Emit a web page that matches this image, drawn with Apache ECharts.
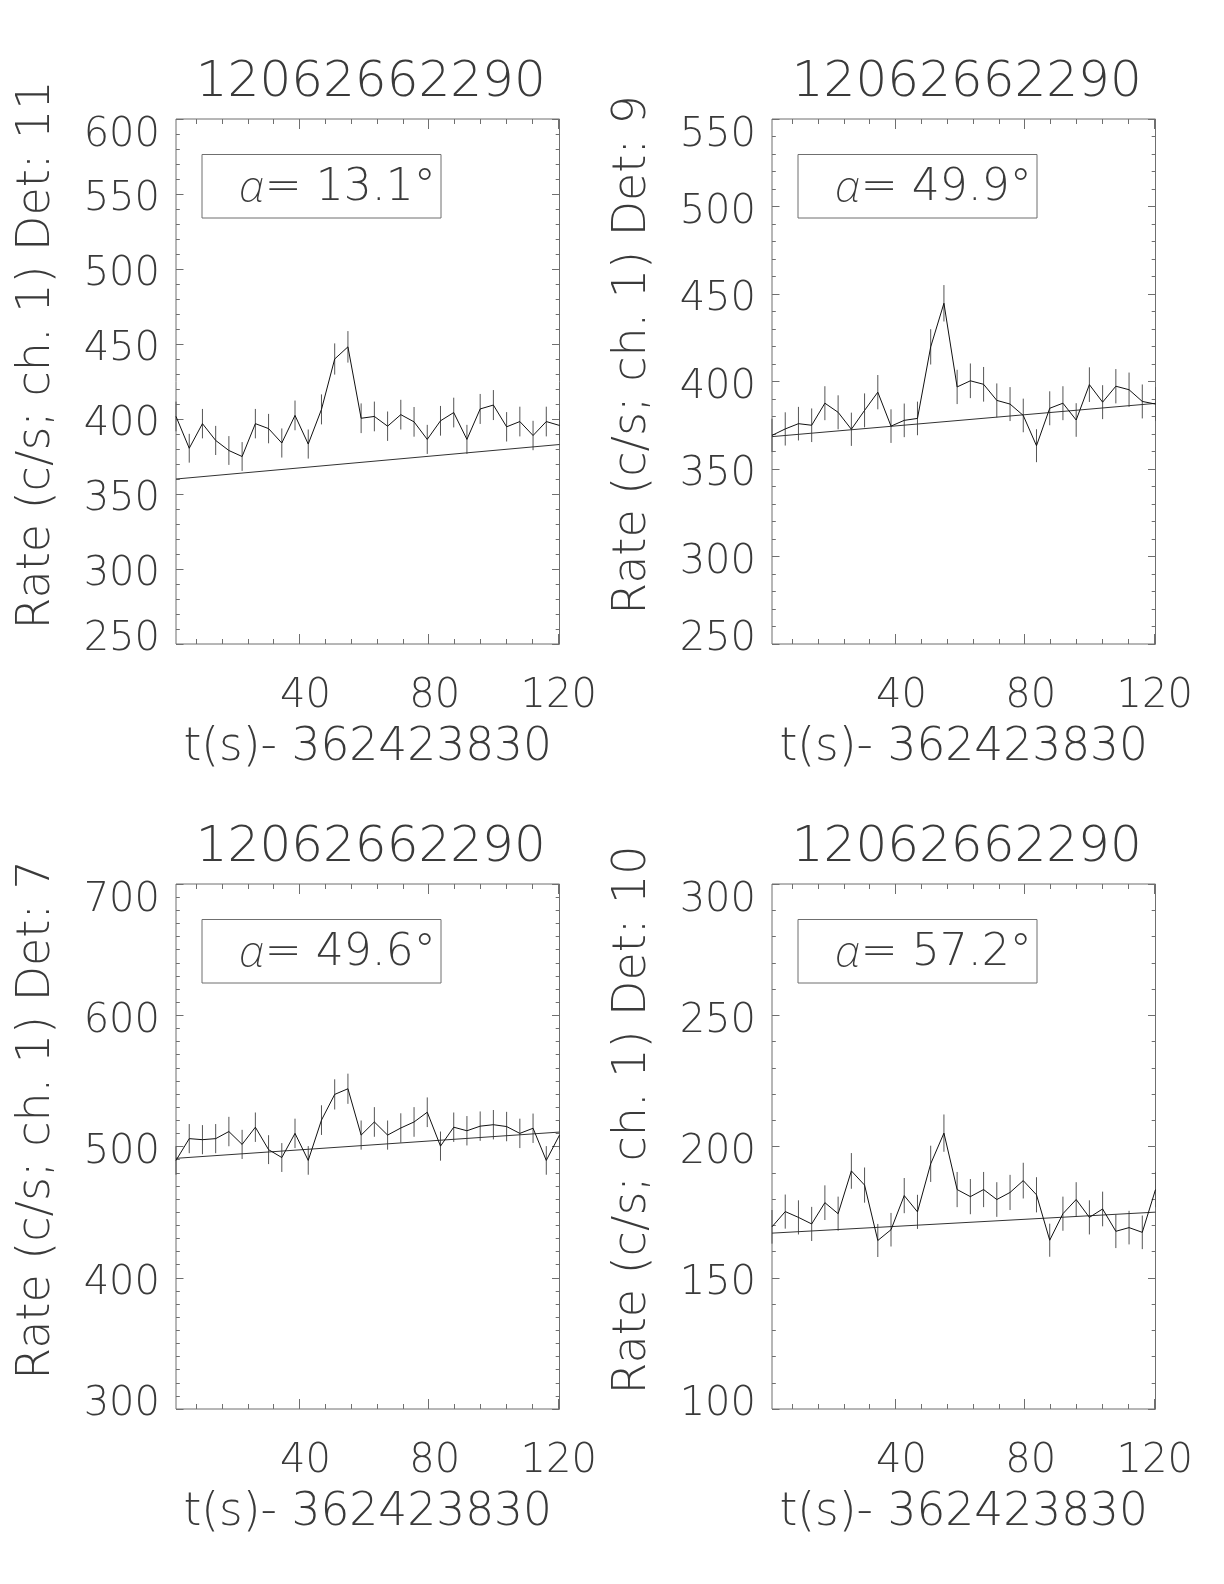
<!DOCTYPE html>
<html><head><meta charset="utf-8">
<script src="https://cdn.jsdelivr.net/npm/echarts@6/dist/echarts.min.js"></script>
<style>html,body{margin:0;padding:0;background:#fff}#c{width:1224px;height:1584px}</style>
</head><body><div id="c"></div>
<script>
// ---- data ----
const times = [1.75, 5.85, 9.94, 14.04, 18.13, 22.23, 26.33, 30.42, 34.52, 38.61, 42.71, 46.81, 50.90, 55.00, 59.09,
  63.19, 67.29, 71.38, 75.48, 79.57, 83.67, 87.77, 91.86, 95.96, 100.05, 104.15, 108.25, 112.34, 116.44, 120.53];

const rateDet11 = [401.7, 380.5, 396.9, 385.7, 379, 375, 396.9, 393.6, 384, 402.4, 383.3, 406.4, 440, 448.1, 400.5,
  401.7, 395.2, 402.9, 398.1, 386.4, 398.8, 404.3, 386.4, 406.7, 409.3, 394.8, 398.3, 389, 398.3, 395.7];
const errDet11 = [9.9, 9.6, 9.8, 9.7, 9.6, 9.6, 9.8, 9.8, 9.7, 9.9, 9.7, 10.0, 10.4, 10.5, 9.9,
  9.9, 9.8, 9.9, 9.9, 9.7, 9.9, 9.9, 9.7, 10.0, 10.0, 9.8, 9.9, 9.8, 9.9, 9.8];
const bkgDet11 = [360, 383];

const rateDet9 = [369.2, 372.9, 375.9, 375, 387.6, 382.4, 372.7, 383.5, 393.9, 374.5, 377.8, 378.9, 419.8, 444.7, 396.9,
  400.4, 398.4, 389.2, 387.1, 380.6, 363.3, 384.7, 387.6, 378, 398.2, 388.2, 397.3, 395.3, 388.6, 387.1];
const errDet9 = [9.5, 9.5, 9.6, 9.6, 9.7, 9.7, 9.5, 9.7, 9.8, 9.6, 9.6, 9.6, 10.1, 10.4, 9.8,
  9.9, 9.9, 9.7, 9.7, 9.6, 9.4, 9.7, 9.7, 9.6, 9.9, 9.7, 9.8, 9.8, 9.7, 9.7];
const bkgDet9 = [368.5, 387.5];

const rateDet7 = [489.4, 506, 505.2, 506, 511.4, 501.6, 514.7, 497.6, 491.6, 510, 489.4, 520.1, 539.7, 544, 508.7,
  518.7, 508.7, 514.1, 518.7, 526.1, 500.3, 514.7, 512, 515.5, 516.6, 515.2, 510, 513.9, 489.4, 508.7];
const errDet7 = [10.9, 11.1, 11.1, 11.1, 11.2, 11.1, 11.2, 11.0, 11.0, 11.2, 10.9, 11.3, 11.5, 11.5, 11.1,
  11.3, 11.1, 11.2, 11.3, 11.3, 11.1, 11.2, 11.2, 11.2, 11.2, 11.2, 11.2, 11.2, 10.9, 11.1];
const bkgDet7 = [491, 511];

const rateDet10 = [169.4, 175.2, 173, 170.5, 178.6, 174.4, 190.7, 185.3, 164.2, 168.3, 181.3, 175.1, 193.4, 205.1, 183.6,
  180.9, 183.6, 179.8, 182.5, 187, 181.6, 164.3, 174.4, 179.8, 173, 176.2, 167.7, 169.1, 167.3, 183.6];
const errDet10 = [6.4, 6.5, 6.5, 6.5, 6.6, 6.5, 6.8, 6.7, 6.3, 6.4, 6.7, 6.5, 6.9, 7.1, 6.7,
  6.7, 6.7, 6.6, 6.7, 6.8, 6.7, 6.3, 6.5, 6.6, 6.5, 6.6, 6.4, 6.4, 6.4, 6.7];
const bkgDet10 = [167, 175];

const panelTitles = ['12062662290', '12062662290', '12062662290', '12062662290'];
const yNames = ['Rate (c/s; ch. 1) Det: 11', 'Rate (c/s; ch. 1) Det: 9', 'Rate (c/s; ch. 1) Det: 7', 'Rate (c/s; ch. 1) Det: 10'];
const xName = 't(s)- 362423830';
const alphaLabels = ['13.1°', '49.9°', '49.6°', '57.2°'];
const yMins = [250, 250, 300, 100];
const yMaxs = [600, 550, 700, 300];
const yIntervals = [50, 50, 100, 50];
const yMinorSplits = [5, 5, 10, 5];
const xMajorTicks = [40, 80, 120];
const xMinorTicks = [8, 16, 24, 32, 48, 56, 64, 72, 88, 96, 104, 112];

const rates = [rateDet11, rateDet9, rateDet7, rateDet10];
const errs = [errDet11, errDet9, errDet7, errDet10];
const bkgs = [bkgDet11, bkgDet9, bkgDet7, bkgDet10];

// ---- layout ----
const FONT = "'DejaVu Sans', 'Noto Sans', sans-serif";
const FW = 200;
const TXT = '#3a3a3a';
const AX = '#6f6f6f';
const GW = 383.5, GH = 525;
const gridPos = [{left: 176, top: 119}, {left: 772, top: 119}, {left: 176, top: 884}, {left: 772, top: 884}];
const tMin = times[0], tMax = times[times.length - 1];
const lbl = {fontSize: 40, fontFamily: FONT, fontWeight: FW, color: TXT};

const grid = [], xAxis = [], yAxis = [], series = [], graphic = [];

gridPos.forEach((g, k) => {
  grid.push({left: g.left, top: g.top, width: GW, height: GH, show: true, borderColor: AX, borderWidth: 1,
    backgroundColor: 'transparent', containLabel: false});

  const baseX = {gridIndex: k, type: 'value', min: tMin, max: tMax, splitLine: {show: false},
    axisLine: {show: false, onZero: false}};
  xAxis.push(Object.assign({}, baseX, {position: 'bottom',
    axisTick: {show: true, inside: true, length: 10, customValues: xMajorTicks, lineStyle: {color: AX, width: 1}},
    axisLabel: Object.assign({show: true, customValues: xMajorTicks, margin: 33,
      formatter: v => (v === 120 ? '{e|' : '{m|') + v + '}',
      rich: {m: Object.assign({padding: [0, 0, 0, 12]}, lbl), e: Object.assign({padding: [0, 0, 0, 2]}, lbl)}}, lbl),
    name: xName, nameLocation: 'middle', nameGap: 81,
    nameTextStyle: {fontSize: 45.5, fontFamily: FONT, fontWeight: FW, color: TXT}}));
  xAxis.push(Object.assign({}, baseX, {position: 'bottom',
    axisTick: {show: true, inside: true, length: 5, customValues: xMinorTicks, lineStyle: {color: AX, width: 1}},
    axisLabel: {show: false}}));
  xAxis.push(Object.assign({}, baseX, {position: 'top',
    axisTick: {show: true, inside: true, length: 10, customValues: xMajorTicks, lineStyle: {color: AX, width: 1}},
    axisLabel: {show: false}}));
  xAxis.push(Object.assign({}, baseX, {position: 'top',
    axisTick: {show: true, inside: true, length: 5, customValues: xMinorTicks, lineStyle: {color: AX, width: 1}},
    axisLabel: {show: false}}));

  const mn = yMins[k], mx = yMaxs[k];
  const baseY = {gridIndex: k, type: 'value', min: mn, max: mx, interval: yIntervals[k],
    splitLine: {show: false}, axisLine: {show: false, onZero: false},
    axisTick: {show: true, inside: true, length: 7.5, lineStyle: {color: AX, width: 1}},
    minorTick: {show: true, splitNumber: yMinorSplits[k], length: 3.8, lineStyle: {color: AX, width: 1}},
    minorSplitLine: {show: false}};
  yAxis.push(Object.assign({}, baseY, {position: 'left',
    axisLabel: Object.assign({show: true, margin: 16,
      formatter: v => (v === mn ? '{lo|' : v === mx ? '{hi|' : '{md|') + v + '}',
      rich: {lo: Object.assign({padding: [0, 0, 8, 0]}, lbl), hi: Object.assign({padding: [33, 0, 0, 0]}, lbl),
        md: Object.assign({padding: [12, 0, 0, 0]}, lbl)}}, lbl),
    name: yNames[k], nameLocation: 'middle', nameGap: 116, nameRotate: 90,
    nameTextStyle: {fontSize: 46, fontFamily: FONT, fontWeight: FW, color: TXT, padding: [0, 0, 0, 53]}}));
  yAxis.push(Object.assign({}, baseY, {position: 'right', axisLabel: {show: false}}));

  const xi = k * 4, yi = k * 2;
  series.push({type: 'line', xAxisIndex: xi, yAxisIndex: yi, data: times.map((t, i) => [t, rates[k][i]]),
    showSymbol: false, symbol: 'none', lineStyle: {color: '#111', width: 1}, z: 4, silent: true});
  series.push({type: 'custom', xAxisIndex: xi, yAxisIndex: yi, silent: true, z: 3,
    data: times.map((t, i) => [t, rates[k][i], errs[k][i]]),
    encode: {x: 0, y: 1},
    renderItem: (params, api) => {
      const x = api.value(0), y = api.value(1), e = api.value(2);
      const p1 = api.coord([x, y - e]), p2 = api.coord([x, y + e]);
      return {type: 'line', shape: {x1: p1[0], y1: p1[1], x2: p2[0], y2: p2[1]},
        style: {stroke: '#555', lineWidth: 1}};
    }});
  series.push({type: 'line', xAxisIndex: xi, yAxisIndex: yi, data: [[tMin, bkgs[k][0]], [tMax, bkgs[k][1]]],
    showSymbol: false, symbol: 'none', lineStyle: {color: '#333', width: 1}, z: 3, silent: true});

  graphic.push({type: 'text', x: g.left + GW / 2 + 3, y: g.top - 36,
    style: {text: panelTitles[k], align: 'center', verticalAlign: 'middle',
      font: FW + ' 50px ' + FONT, fill: TXT}});
  graphic.push({type: 'rect', shape: {x: g.left + 26, y: g.top + 35.5, width: 239, height: 63.5},
    style: {fill: 'none', stroke: AX, lineWidth: 1}});
  graphic.push({type: 'text', x: g.left + 63, y: g.top + 70,
    style: {text: '{a|α}= ' + alphaLabels[k], align: 'left', verticalAlign: 'middle',
      font: FW + ' 44px ' + FONT, fill: TXT,
      rich: {a: {fontStyle: 'italic', fontSize: 44, fontFamily: "'Noto Sans', 'DejaVu Sans', sans-serif", fontWeight: 200, fill: TXT}}}});
});

const chart = echarts.init(document.getElementById('c'), null, {renderer: 'canvas'});
chart.setOption({animation: false, backgroundColor: '#fff', grid, xAxis, yAxis, series, graphic});
</script></body></html>
